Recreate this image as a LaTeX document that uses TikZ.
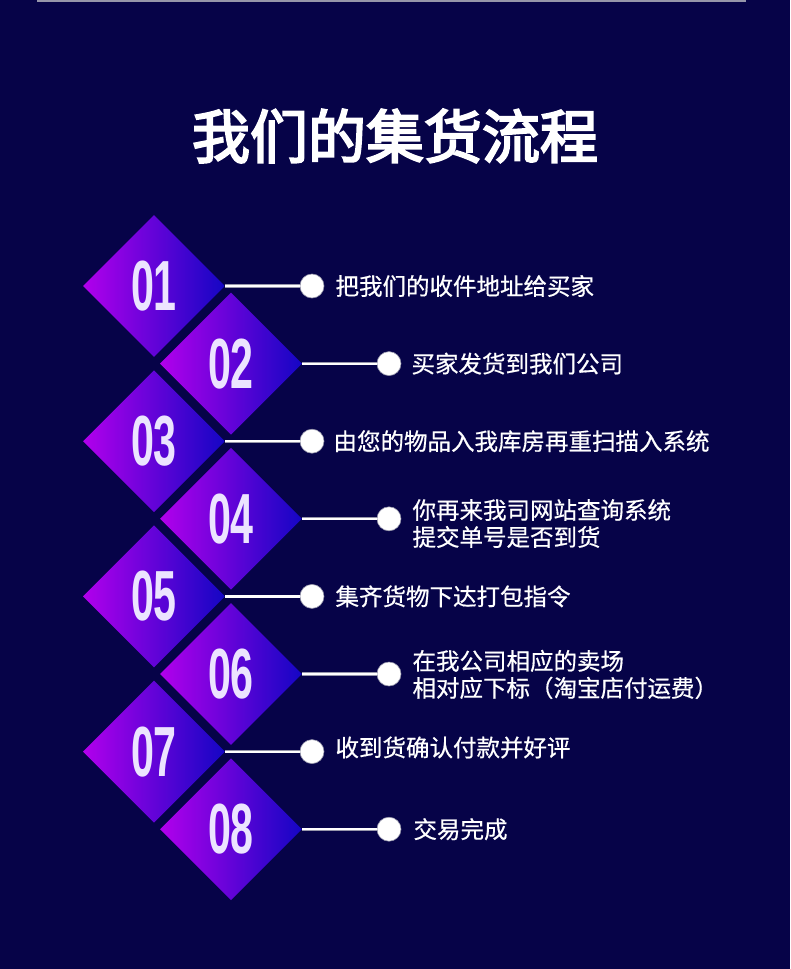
\documentclass[tikz,border=0pt]{standalone}
\usepackage{fontspec}
\usepackage{graphicx}
\usetikzlibrary{shapes.geometric}
\newfontfamily\cjk[FakeBold=0.6]{Noto Sans CJK SC}
\newfontfamily\cjktitle[FakeBold=3.5]{Noto Sans CJK SC}
\newfontfamily\numfont{Liberation Sans}
\definecolor{bgnavy}{RGB}{6,3,72}
\definecolor{dmagenta}{RGB}{178,0,236}
\definecolor{dblue}{RGB}{20,6,196}
\definecolor{numlav}{RGB}{236,228,255}
\definecolor{ringgray}{RGB}{150,150,170}
\newcommand{\stepnum}[1]{\scalebox{0.58}[1]{#1}}

\begin{document}
\begin{tikzpicture}[x=1pt, y=-1pt,
    stepdiamond/.style={diamond, aspect=1, minimum width=142pt, minimum height=142pt,
          inner sep=0pt, left color=dmagenta, right color=dblue,
          text=numlav, font=\numfont\bfseries\fontsize{71}{71}\selectfont},
    dot/.style={circle, fill=white, draw=ringgray, line width=0.6pt,
          minimum size=24pt, inner sep=0pt},
    link/.style={draw=ringgray, line width=0.5pt, double=white, double distance=2.2pt},
    steptext/.style={anchor=west, text=white, align=left,
          font=\cjk\fontsize{23.5}{27}\selectfont}]
    \fill[bgnavy] (0,0) rectangle (790,969);
    \useasboundingbox (0,0) rectangle (790,969);
    \draw[ringgray, line width=2pt] (37,0.5) -- (746,0.5);
    \node[text=white, font=\cjktitle\fontsize{58}{58}\selectfont] (title) at (395,136)
         {我们的集货流程};
    % diamonds
    \node[stepdiamond] (d1) at (154,286.0) {\stepnum{01}};
    \node[stepdiamond] (d2) at (231,363.6) {\stepnum{02}};
    \node[stepdiamond] (d3) at (154,441.2) {\stepnum{03}};
    \node[stepdiamond] (d4) at (231,518.8) {\stepnum{04}};
    \node[stepdiamond] (d5) at (154,596.4) {\stepnum{05}};
    \node[stepdiamond] (d6) at (231,674.0) {\stepnum{06}};
    \node[stepdiamond] (d7) at (154,751.6) {\stepnum{07}};
    \node[stepdiamond] (d8) at (231,829.2) {\stepnum{08}};
    % dots
    \node[dot] (c1) at (312,286.0) {};
    \node[dot] (c2) at (389,363.6) {};
    \node[dot] (c3) at (312,441.2) {};
    \node[dot] (c4) at (389,518.8) {};
    \node[dot] (c5) at (312,596.4) {};
    \node[dot] (c6) at (389,674.0) {};
    \node[dot] (c7) at (312,751.6) {};
    \node[dot] (c8) at (389,829.2) {};
    \draw[link] (d1.east) -- (c1.west);
    \draw[link] (d2.east) -- (c2.west);
    \draw[link] (d3.east) -- (c3.west);
    \draw[link] (d4.east) -- (c4.west);
    \draw[link] (d5.east) -- (c5.west);
    \draw[link] (d6.east) -- (c6.west);
    \draw[link] (d7.east) -- (c7.west);
    \draw[link] (d8.east) -- (c8.west);
    % texts
    \node[steptext] (t1) at (332,286.0) {把我们的收件地址给买家};
    \node[steptext] (t2) at (408,363.6) {买家发货到我们公司};
    \node[steptext] (t3) at (330,441.2) {由您的物品入我库房再重扫描入系统};
    \node[steptext] (t4) at (409,523.5) {你再来我司网站查询系统\\提交单号是否到货};
    \node[steptext] (t5) at (332,596.4) {集齐货物下达打包指令};
    \node[steptext] (t6) at (409,674.5) {在我公司相应的卖场\\相对应下标（淘宝店付运费）};
    \node[steptext] (t7) at (332,747.5) {收到货确认付款并好评};
    \node[steptext] (t8) at (410,829.2) {交易完成};
\end{tikzpicture}
\end{document}
